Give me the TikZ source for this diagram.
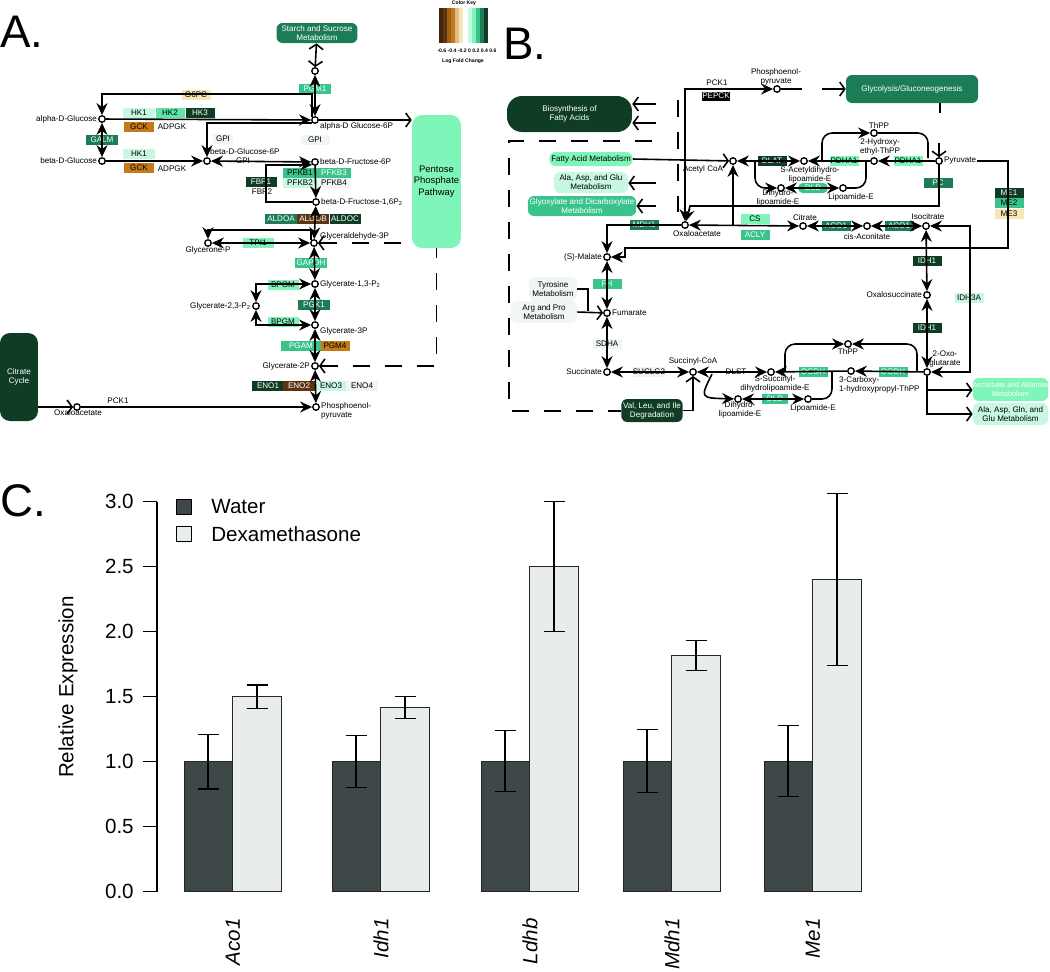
\documentclass[tikz,border=0pt]{standalone}
\usepackage{fontspec}
\setmainfont{Liberation Sans}
\usetikzlibrary{arrows.meta, calc}
\definecolor{KGdark}{RGB}{14,60,36}
\definecolor{KGmid}{RGB}{28,124,86}
\definecolor{KGgreen}{RGB}{58,196,140}
\definecolor{KGlg}{RGB}{96,228,168}
\definecolor{KGlight}{RGB}{128,245,185}
\definecolor{KGpale}{RGB}{200,248,226}
\definecolor{KGwhite}{RGB}{240,246,243}
\definecolor{KGbrown}{RGB}{92,52,18}
\definecolor{KGochre}{RGB}{196,122,24}
\definecolor{KGbeige}{RGB}{246,232,180}
\definecolor{Water}{RGB}{62,72,72}
\definecolor{Dexa}{RGB}{232,236,235}
\newcommand{\kf}{\fontsize{4.6}{5.2}\selectfont}
\newcommand{\kkf}{\fontsize{2.9}{3.3}\selectfont}
\newcommand{\cf}{\fontsize{11.7}{14}\selectfont}
\newcommand{\pf}{\fontsize{26}{30}\selectfont}
\tikzset{kgtip/.tip={Stealth[length=0.24cm, width=0.22cm, inset=0.08cm]},
         obtip/.tip={Straight Barb[length=0.1cm, width=0.28cm]}}

\begin{document}
\begin{tikzpicture}[x=0.02cm, y=-0.02cm,
    met/.style={circle, draw, fill=white, line width=0.75pt, inner sep=0pt, minimum size=0.13cm},
    gene/.style={rectangle, inner sep=0pt, minimum height=0.2cm, minimum width=0.58cm, font=\kf},
    lbl/.style={inner sep=0.5pt, font=\kf, align=center},
    pbox/.style={rectangle, rounded corners=0.12cm, inner sep=1pt, font=\kf, align=center},
    ln/.style={line width=0.9pt},
    rx/.style={line width=0.9pt, kgtip-kgtip},
    ir/.style={line width=0.9pt, -kgtip},
    opn/.style={line width=0.9pt, -obtip},
    opn2/.style={line width=0.9pt, obtip-obtip},
    dashln/.style={line width=0.9pt, dash pattern=on 0.34cm off 0.3cm},
    panlbl/.style={anchor=west, inner sep=0pt, font=\pf},
    bar/.style={draw=black!85, line width=0.5pt},
    err/.style={line width=0.6pt},
    cat/.style={rotate=90, anchor=east, inner sep=0pt, font=\cf\itshape}
  ]
  \useasboundingbox (0,0) rectangle (1050,971);

  %% ---------- A. glycolysis ----------
  \node[panlbl] (labA) at (0,32) {A.};
  \node[pbox, fill=KGmid, text=white, minimum width=1.62cm, minimum height=0.4cm]
        (aStarchBox) at (317,33) {Starch and Sucrose\\Metabolism};
  \node[pbox, rounded corners=0.2cm, fill=KGlight, minimum width=0.94cm, minimum height=2.66cm,
        font=\fontsize{5.4}{6.4}\selectfont] (aPPP) at (436.5,181.5) {Pentose\\Phosphate\\Pathway};
  \node[pbox, rounded corners=0.2cm, fill=KGdark, text=white, minimum width=0.76cm,
        minimum height=1.76cm] (aCit) at (19,377) {Citrate\\Cycle};

  % colour key
  \foreach \c [count=\k from 0] in {KGbrown!70!black, KGbrown, KGochre!80!black, KGochre,
        KGochre!50!white, KGbeige, white, KGpale, KGlight, KGgreen, KGmid, KGdark}
    \fill[\c] ({439+4.08*\k},8) rectangle ({439+4.08*(\k+1)},43);
  \node[lbl, font=\kkf\bfseries] (keyT) at (464,3) {Color Key};
  \node[lbl, font=\kkf\bfseries] (keyS) at (467,51) {-0.6 -0.4 -0.2 0 0.2 0.4 0.6};
  \node[lbl, font=\kkf\bfseries] (keyL) at (463,61) {Log Fold Change};

  % genes
  \node[gene, fill=KGbeige] (gG6PC) at (196,95) {G6PC};
  \node[gene, fill=KGpale, minimum width=0.64cm] (gHK1) at (139,113) {HK1};
  \node[gene, fill=KGlg] (gHK2) at (170,113) {HK2};
  \node[gene, fill=KGdark, text=white] (gHK3) at (200,113) {HK3};
  \node[gene, fill=KGochre, minimum width=0.62cm] (gGCK) at (139,127) {GCK};
  \node[gene, fill=KGmid, text=white, minimum width=0.64cm] (gGALM) at (102,140) {GALM};
  \node[gene, fill=KGwhite, minimum width=0.4cm] (gGPIa) at (223,139) {GPI};
  \node[gene, fill=KGpale, minimum width=0.64cm] (gHK1b) at (139,154) {HK1};
  \node[gene, fill=KGochre, minimum width=0.62cm] (gGCKb) at (139,168) {GCK};
  \node[gene, fill=KGgreen, text=white, minimum width=0.64cm] (gPGM1) at (315,89) {PGM1};
  \node[gene, fill=KGwhite] (gGPIb) at (315,140) {GPI};
  \node[gene, fill=KGdark, text=white, minimum width=0.62cm] (gFBP1) at (261,182) {FBP1};
  \node[gene, fill=KGgreen, minimum width=0.68cm] (gPFKB1) at (300,173) {PFKB1};
  \node[gene, fill=KGgreen, text=white, minimum width=0.68cm] (gPFKB3) at (334,173) {PFKB3};
  \node[gene, fill=KGpale, minimum width=0.68cm] (gPFKB2) at (300,183) {PFKB2};
  \node[gene, fill=KGwhite, minimum width=0.68cm] (gPFKB4) at (334,183) {PFKB4};
  \node[gene, fill=KGmid, text=white, minimum width=0.64cm] (gALDOA) at (281,219) {ALDOA};
  \node[gene, fill=KGbrown, text=white, minimum width=0.64cm] (gALDOB) at (313,219) {ALDOB};
  \node[gene, fill=KGdark, text=white, minimum width=0.62cm] (gALDOC) at (345,219) {ALDOC};
  \node[gene, fill=KGlight, minimum width=0.62cm] (gTPI1) at (258,243) {TPI1};
  \node[gene, fill=KGgreen, text=white, minimum width=0.64cm] (gGAPDH) at (311,263) {GAPDH};
  \node[gene, fill=KGlight, minimum width=0.62cm] (gBPGM) at (283,285) {BPGM};
  \node[gene, fill=KGmid, text=white, minimum width=0.64cm] (gPGK1) at (314,305) {PGK1};
  \node[gene, fill=KGlight, minimum width=0.62cm] (gBPGMb) at (283,322) {BPGM};
  \node[gene, fill=KGgreen, text=white, minimum width=0.8cm] (gPGAM) at (301,346) {PGAM};
  \node[gene, fill=KGochre] (gPGM4) at (335,346) {PGM4};
  \node[gene, fill=KGdark, text=white, minimum width=0.64cm] (gENO1) at (268,386) {ENO1};
  \node[gene, fill=KGbrown, text=white, minimum width=0.64cm] (gENO2) at (299,386) {ENO2};
  \node[gene, fill=KGpale, minimum width=0.64cm] (gENO3) at (331,386) {ENO3};
  \node[gene, fill=KGwhite, minimum width=0.64cm] (gENO4) at (362,386) {ENO4};
  \node[lbl] (tADPGK) at (172,127) {ADPGK};
  \node[lbl] (tADPGKb) at (172,169) {ADPGK};
  \node[lbl] (tGPI) at (243,161) {GPI};
  \node[lbl] (tFBP2) at (262,192) {FBP2};
  \node[lbl] (tPCK1) at (118,401) {PCK1};

  % compounds
  \node[met] (aStarch) at (315,71) {};
  \node[met] (aG6P) at (315,120) {};
  \node[met] (aF6P) at (315,162) {};
  \node[met] (aF16) at (316,202) {};
  \node[met] (aGAP) at (314,243) {};
  \node[met] (aBPG) at (315,284) {};
  \node[met] (aP3G) at (315,325) {};
  \node[met] (aP2G) at (315,366) {};
  \node[met] (aPEP) at (316,407) {};
  \node[met] (aGlcA) at (102,119) {};
  \node[met] (aGlcB) at (102,161) {};
  \node[met] (aG6Pb) at (207,161) {};
  \node[met] (aDHAP) at (208,243) {};
  \node[met] (aBPG23) at (256,306) {};
  \node[met] (aOAA) at (77,407) {};
  \node[lbl, anchor=east] at (aGlcA.west) {alpha-D-Glucose};
  \node[lbl, anchor=east] at (aGlcB.west) {beta-D-Glucose};
  \node[lbl, anchor=west] at (319,126) {alpha-D Glucose-6P};
  \node[lbl, anchor=west] at (209,152) {beta-D-Glucose-6P};
  \node[lbl, anchor=west] at (aF6P.east) {beta-D-Fructose-6P};
  \node[lbl, anchor=west] at (aF16.east) {beta-D-Fructose-1,6P\textsubscript{2}};
  \node[lbl, anchor=west] at (319,236) {Glyceraldehyde-3P};
  \node[lbl] at (208,250) {Glycerone-P};
  \node[lbl, anchor=west] at (aBPG.east) {Glycerate-1,3-P\textsubscript{2}};
  \node[lbl, anchor=east] at (aBPG23.west) {Glycerate-2,3-P\textsubscript{2}};
  \node[lbl, anchor=west] at (319,331) {Glycerate-3P};
  \node[lbl, anchor=east] at (aP2G.west) {Glycerate-2P};
  \node[lbl, anchor=west, align=left] at (320,411) {Phosphoenol-\\pyruvate};
  \node[lbl] at (78,413) {Oxaloacetate};

  % reactions
  \coordinate (fbpC) at (266,202);
  \coordinate (dhapC) at (208,230);
  \draw[opn2] (aStarchBox) -- (aStarch);
  \draw[rx] (aStarch) -- (aG6P);
  \draw[ir] (aG6P.north west) -- ++(0,-23) -| (aGlcA);
  \draw[ir] (aGlcA) -- (aG6P);
  \draw[ir] (aG6P.south west) -| (aG6Pb);
  \draw[ir] (aGlcB) -- (aG6Pb);
  \draw[rx] (aG6Pb) -- (aF6P);
  \draw[rx] (aGlcA) -- (aGlcB);
  \draw[ir] (aF16) -- (fbpC) |- (aF6P.south west);
  \draw[ir] (aF6P) -- (aF16);
  \draw[rx] (aF16) -- (aGAP);
  \draw[rx] (aDHAP) -- (aGAP);
  \draw[ir] (aGAP.north west) |- (dhapC) -- (aDHAP);
  \draw[opn] (aG6P) -- (aG6P -| aPPP.west);
  \draw[dashln, obtip-] (aGAP) -- (aGAP -| aPPP.west);
  \draw[dashln, obtip-] (aP2G) -| (aPPP.south);
  \draw[rx] (aGAP) -- (aBPG);
  \draw[rx] (aBPG) -- (aP3G);
  \draw[rx] (aP3G) -- (aP2G);
  \draw[rx] (aP2G) -- (aPEP);
  \draw[rx] (aBPG) -| (aBPG23);
  \draw[rx] (aBPG23) |- (aP3G);
  \draw[ir] (aOAA) -- (aPEP);
  \draw[opn] (aCit.east |- aOAA) -- (aOAA);

  %% ---------- B. citrate cycle ----------
  \node[panlbl] (labB) at (503,44) {B.};
  \node[pbox, rounded corners=0.3cm, fill=KGdark, text=white, minimum width=2.5cm,
        minimum height=0.72cm] (bFAS) at (569.5,114) {Biosynthesis of\\Fatty Acids};
  \node[pbox, fill=KGmid, text=white, minimum width=2.64cm, minimum height=0.56cm]
        (bGlyc) at (912,89) {Glycolysis/Gluconeogenesis};
  \node[pbox, fill=KGlight, minimum width=1.48cm, minimum height=0.28cm] (bFAM) at (591,159) {Fatty Acid Metabolism};
  \node[pbox, fill=KGpale, minimum width=1.48cm, minimum height=0.42cm] (bAAG) at (591,182.5) {Ala, Asp, and Glu\\Metabolism};
  \node[pbox, fill=KGgreen, text=white, minimum width=1.92cm, minimum height=0.4cm] (bGDM) at (582,206) {Glyoxylate and Dicarboxylate\\Metabolism};
  \node[pbox, fill=KGwhite, minimum width=0.96cm, minimum height=0.48cm] (bTyr) at (553,289) {Tyrosine\\Metabolism};
  \node[pbox, fill=KGwhite, minimum width=1.32cm, minimum height=0.44cm] (bArg) at (544,312) {Arg and Pro\\Metabolism};
  \node[pbox, fill=KGdark, text=white, minimum width=1.08cm, minimum height=0.46cm] (bVLI) at (652,410.5) {Val, Leu, and Ile\\Degradation};
  \node[pbox, fill=KGlight, text=white, minimum width=1.5cm, minimum height=0.46cm, inner sep=0pt,
        font=\fontsize{4.1}{4.8}\selectfont] (bAsc) at (1010.5,389.5) {Ascorbate and Aldarate\\Metabolism};
  \node[pbox, fill=KGpale, minimum width=1.5cm, minimum height=0.44cm] (bAAGG) at (1010.5,414) {Ala, Asp, Gln, and\\Glu Metabolism};

  % genes
  \node[gene, fill=black, text=white, draw=white, minimum width=0.58cm] (gPEPCK) at (716,96) {PEPCK};
  \node[lbl] (tPCK1b) at (717,83) {PCK1};
  \node[gene, fill=KGdark, text=white] (gDLAT) at (772,161) {DLAT};
  \node[gene, fill=KGlight] (gPDHA1) at (844,161) {PDHA1};
  \node[gene, fill=KGlight] (gPDHA1b) at (908,161) {PDHA1};
  \node[gene, fill=KGmid, text=white] (gPC) at (938,183) {PC};
  \node[gene, fill=KGgreen, text=white, rounded corners=0.08cm] (gDLD) at (813,188) {DLD};
  \node[gene, fill=KGmid, text=white] (gMDH1) at (644,225) {MDH1};
  \node[gene, fill=KGlight] (gCS) at (755,219) {CS};
  \node[gene, fill=KGgreen, text=white] (gACLY) at (755,235) {ACLY};
  \node[gene, fill=KGmid, text=white] (gACO1) at (836,226) {ACO1};
  \node[gene, fill=KGmid, text=white] (gACO1b) at (899,226) {ACO1};
  \node[gene, fill=KGdark, text=white] (gIDH1) at (927,261) {IDH1};
  \node[gene, fill=KGdark, text=white] (gIDH1b) at (927,328) {IDH1};
  \node[gene, fill=KGpale] (gIDH3A) at (969,298) {IDH3A};
  \node[gene, fill=KGdark, text=white] (gME1) at (1009,193) {ME1};
  \node[gene, fill=KGgreen] (gME2) at (1009,203) {ME2};
  \node[gene, fill=KGbeige] (gME3) at (1009,214) {ME3};
  \node[gene, fill=KGgreen, text=white] (gFH) at (607,284) {FH};
  \node[gene, fill=KGwhite] (gSDHA) at (607,344) {SDHA};
  \node[gene, fill=KGwhite, minimum width=0.66cm] (gSUCLG2) at (649,372) {SUCLG2};
  \node[gene, fill=white, minimum width=0.5cm] (gDLST) at (736,372) {DLST};
  \node[gene, fill=KGgreen, text=white] (gOGDH) at (813,372) {OGDH};
  \node[gene, fill=KGgreen, text=white] (gOGDHb) at (893,372) {OGDH};
  \node[gene, fill=KGgreen, text=white, minimum width=0.52cm] (gDLDb) at (775,399) {DLD};

  % compounds
  \node[met] (bPEP) at (777,89) {};
  \node[met] (bAcCoA) at (733,161) {};
  \node[met] (bSAc) at (804,161) {};
  \node[met] (bDHL) at (781,188) {};
  \node[met] (bLip) at (843,188) {};
  \node[met] (bThPP) at (874,133) {};
  \node[met] (bHET) at (874,161) {};
  \node[met] (bPyr) at (939,161) {};
  \node[met] (bOAA) at (685,225) {};
  \node[met] (bCit) at (803,226) {};
  \node[met] (bCis) at (867,226) {};
  \node[met] (bIso) at (926,226) {};
  \node[met] (bOxs) at (927,295) {};
  \node[met] (bOxo) at (927,372) {};
  \node[met] (bMal) at (607,257) {};
  \node[met] (bFum) at (607,313) {};
  \node[met] (bSuc) at (607,372) {};
  \node[met] (bSCoA) at (693,372) {};
  \node[met] (bSSu) at (771,372) {};
  \node[met] (bDHL2) at (738,399) {};
  \node[met] (bLip2) at (808,399) {};
  \node[met] (bThPP2) at (848,344) {};
  \node[met] (bCHP) at (851,371) {};
  \node[lbl] at (776,77) {Phosphoenol-\\pyruvate};
  \node[lbl] at (703,169) {Acetyl CoA};
  \node[lbl] at (810,175) {S-Acetyldihydro-\\lipoamide-E};
  \node[lbl] at (778,198) {Dihydro-\\lipoamide-E};
  \node[lbl] at (851,197) {Lipoamide-E};
  \node[lbl] at (879,126) {ThPP};
  \node[lbl] at (880,147) {2-Hydroxy-\\ethyl-ThPP};
  \node[lbl, anchor=west] (pyrLbl) at (bPyr.east) {Pyruvate};
  \node[lbl] at (697,234) {Oxaloacetate};
  \node[lbl] at (805,218) {Citrate};
  \node[lbl] at (867,237) {cis-Aconitate};
  \node[lbl] at (928,217) {Isocitrate};
  \node[lbl, anchor=east] at (bOxs.west) {Oxalosuccinate};
  \node[lbl] at (945,359) {2-Oxo-\\glutarate};
  \node[lbl, anchor=east] at (bMal.west) {(S)-Malate};
  \node[lbl, anchor=west] at (bFum.east) {Fumarate};
  \node[lbl, anchor=east] at (bSuc.west) {Succinate};
  \node[lbl] at (693,361) {Succinyl-CoA};
  \node[lbl] at (775,384) {S-Succinyl-\\dihydrolipoamide-E};
  \node[lbl] at (740,410) {Dihydro-\\lipoamide-E};
  \node[lbl] at (813,408) {Lipoamide-E};
  \node[lbl] at (848,352) {ThPP};
  \node[lbl, anchor=west, align=left] at (838,385) {3-Carboxy-\\1-hydroxypropyl-ThPP};

  % reactions
  \coordinate (pepOut) at (802,89);
  \coordinate (glycIn) at (822,89);
  \coordinate (glycDn) at (940,113);
  \coordinate (pyrIn) at (939,143);
  \coordinate (fasA) at (656,104);
  \coordinate (fasB) at (656,123);
  \coordinate (aagA) at (656,183);
  \coordinate (gdmA) at (656,206);
  \coordinate (dshT) at (678,100);
  \coordinate (dshB) at (678,212);
  \coordinate (thL) at (822,161);
  \coordinate (thR) at (928,158);
  \coordinate (dhlL) at (755,161);
  \coordinate (lipR) at (866,161);
  \coordinate (pcL) at (690,206);
  \coordinate (csUp) at (733,225);
  \coordinate (idh3) at (970,298);
  \coordinate (meA) at (1008,248);
  \coordinate (meB) at (625,248);
  \coordinate (tyT) at (588,311);
  \coordinate (scR) at (712,374);
  \coordinate (lip2R) at (832,372);
  \coordinate (th2L) at (785,372);
  \coordinate (th2R) at (917,371);
  \coordinate (oxoBr) at (927,390);
  \coordinate (dbTR) at (652,141);
  \coordinate (dbTL) at (509,141);
  \coordinate (dbBL) at (509,411);

  \draw[rx] (bPEP) -| (bOAA);
  \draw[ln] (bPEP) -- (pepOut);
  \draw[opn] (glycIn) -- (bGlyc.west |- glycIn);
  \draw[ln] (bGlyc.south -| glycDn) -- (glycDn);
  \draw[opn] (pyrIn) -- (bPyr);
  \draw[opn] (fasA) -- (bFAS.east |- fasA);
  \draw[opn] (fasB) -- (bFAS.east |- fasB);
  \draw[opn] (aagA) -- (bAAG.east |- aagA);
  \draw[opn] (gdmA) -- (bGDM.east |- gdmA);
  \draw[opn] (bFAM.east) -- (bAcCoA);
  \draw[dashln] (dshT) -- (dshB);
  \draw[ir] (bPyr) -- (bHET);
  \draw[ir, rounded corners=0.2cm] (thL) |- (bThPP);
  \draw[ln, rounded corners=0.2cm] (thR) |- (bThPP);
  \draw[ir] (bHET) -- (bSAc);
  \draw[rx] (bSAc) -- (bAcCoA);
  \draw[ir, rounded corners=0.2cm] (dhlL) |- (bDHL);
  \draw[rx] (bDHL) -- (bLip);
  \draw[ln, rounded corners=0.2cm] (bLip) -| (lipR);
  \draw[ir] (bPyr) |- (pcL) -- (bOAA);
  \draw[rx] (bOAA) -- (bCit);
  \draw[ir] (csUp) -- (bAcCoA);
  \draw[rx] (bCit) -- (bCis);
  \draw[rx] (bCis) -- (bIso);
  \draw[rx] (bIso) -- (bOxs);
  \draw[rx] (bOxs) -- (bOxo);
  \draw[rx] (bIso) -| (idh3) |- (bOxo);
  \draw[ir] (pyrLbl.east |- bPyr) -| (meA) -- (meB) |- (bMal);
  \draw[ir] (bOAA) -| (bMal);
  \draw[rx] (bMal) -- (bFum);
  \draw[rx] (bFum) -- (bSuc);
  \draw[ln] (bTyr.east) -| (tyT);
  \draw[opn] (bArg.east) -- (bFum);
  \draw[rx] (bSCoA) -- (bSuc);
  \draw[rx] (bSSu) -- (bSCoA);
  \draw[ir] (scR) .. controls (700,398) .. (bDHL2);
  \draw[rx] (bDHL2) -- (bLip2);
  \draw[ln, rounded corners=0.2cm] (bLip2) -| (lip2R);
  \draw[ir] (bCHP) -- (bSSu);
  \draw[ir] (bOxo) -- (bCHP);
  \draw[ir, rounded corners=0.2cm] (th2L) |- (bThPP2);
  \draw[ir, rounded corners=0.2cm] (th2R) |- (bThPP2);
  \draw[opn] (bVLI.east) -| (bSCoA);
  \draw[opn] (bOxo) |- (bAAGG.west);
  \draw[opn] (oxoBr) -- (bAsc.west |- oxoBr);
  \draw[dashln] (dbTR) -- (dbTL) -- (dbBL) -- (bVLI.west |- dbBL);

  %% ---------- C. qPCR ----------
  \node[panlbl] (labC) at (0,501) {C.};
  \draw[line width=0.6pt] (157,501.7) -- (157,891.7);
  \foreach \v/\t in {0/0.0, 0.5/0.5, 1/1.0, 1.5/1.5, 2/2.0, 2.5/2.5, 3/3.0} {
    \draw[line width=0.6pt] (143,{891.7-130*\v}) -- (157,{891.7-130*\v});
    \node[anchor=east, inner sep=0pt, font=\cf] (tick\t) at (134,{891.7-130*\v}) {\t};
  }
  \node[rotate=90, inner sep=0pt, font=\cf] (yLbl) at (68,687) {Relative Expression};
  \foreach \gx/\wlo/\whi/\dv/\dlo/\dhi/\gn [count=\i] in
      {184/0.79/1.21/1.50/1.41/1.59/Aco1, 332/0.80/1.20/1.42/1.33/1.50/Idh1,
       481/0.77/1.24/2.50/2.00/3.00/Ldhb, 623/0.76/1.25/1.82/1.70/1.93/Mdh1,
       764/0.73/1.28/2.40/1.74/3.06/Me1} {
    \draw[bar, fill=Water] (\gx,891.7) rectangle ({\gx+48.5},761.7);
    \draw[bar, fill=Dexa] ({\gx+48.5},891.7) rectangle ({\gx+97},{891.7-130*\dv});
    \draw[err] ({\gx+24},{891.7-130*\wlo}) -- ({\gx+24},{891.7-130*\whi});
    \draw[err] ({\gx+13.5},{891.7-130*\wlo}) -- ({\gx+34.5},{891.7-130*\wlo});
    \draw[err] ({\gx+13.5},{891.7-130*\whi}) -- ({\gx+34.5},{891.7-130*\whi});
    \draw[err] ({\gx+73},{891.7-130*\dlo}) -- ({\gx+73},{891.7-130*\dhi});
    \draw[err] ({\gx+62.5},{891.7-130*\dlo}) -- ({\gx+83.5},{891.7-130*\dlo});
    \draw[err] ({\gx+62.5},{891.7-130*\dhi}) -- ({\gx+83.5},{891.7-130*\dhi});
    \node[cat] (cat\i) at ({\gx+49},918) {\gn};
  }
  \node[draw, line width=0.5pt, fill=Water, minimum size=0.3cm, inner sep=0pt] (legW) at (184,507) {};
  \node[draw, line width=0.5pt, fill=Dexa, minimum size=0.3cm, inner sep=0pt] (legD) at (184,534) {};
  \node[anchor=west, inner sep=0pt, font=\cf] (legWt) at (211,507) {Water};
  \node[anchor=west, inner sep=0pt, font=\cf] (legDt) at (211,534) {Dexamethasone};
\end{tikzpicture}
\end{document}
